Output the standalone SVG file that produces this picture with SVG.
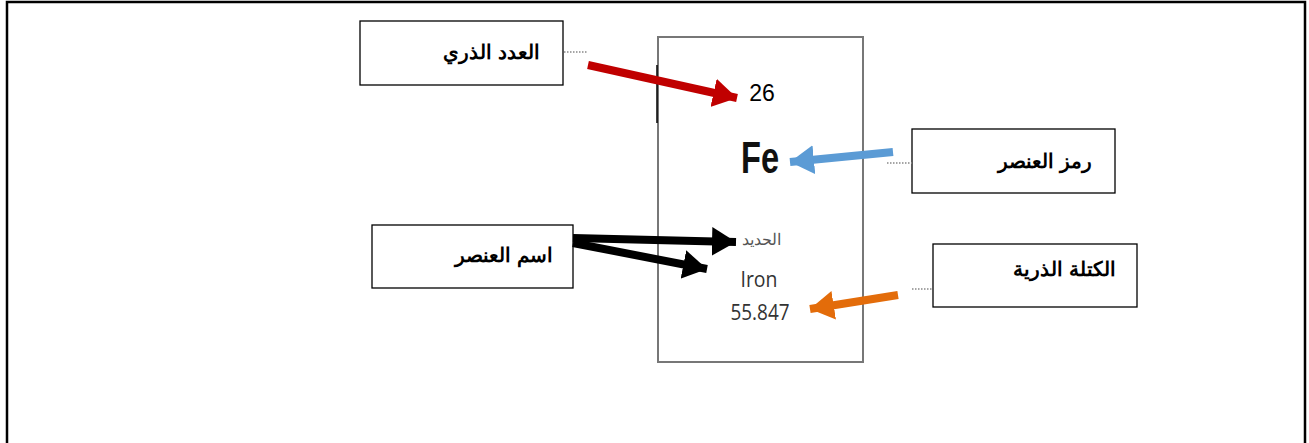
<svg xmlns="http://www.w3.org/2000/svg" width="1309" height="443" viewBox="0 0 1309 443">
<style>
.lbl{fill:#fff;stroke:#000;stroke-width:1.3}
.ar{font-family:"Liberation Sans","Noto Sans",sans-serif;font-weight:bold;font-size:20px;fill:#000}
.dot{stroke:#888;stroke-width:1.3;stroke-dasharray:1.5 1.5;fill:none}
.el{font-family:"Open Sans","Liberation Sans",sans-serif;fill:#333}
</style>
<defs>
<marker id="hRed" markerWidth="3" markerHeight="3.6" refX="3" refY="1.8" orient="auto" markerUnits="strokeWidth"><path d="M0,0 L3,1.8 L0,3.6 Z" fill="#c00000"/></marker>
<marker id="hBlue" markerWidth="3" markerHeight="3.6" refX="3" refY="1.8" orient="auto" markerUnits="strokeWidth"><path d="M0,0 L3,1.8 L0,3.6 Z" fill="#5b9bd5"/></marker>
<marker id="hOrange" markerWidth="3" markerHeight="3.6" refX="3" refY="1.8" orient="auto" markerUnits="strokeWidth"><path d="M0,0 L3,1.8 L0,3.6 Z" fill="#e36c0a"/></marker>
<marker id="hBlack" markerWidth="3" markerHeight="3.6" refX="3" refY="1.8" orient="auto" markerUnits="strokeWidth"><path d="M0,0 L3,1.8 L0,3.6 Z" fill="#000"/></marker>
</defs>
<rect width="1309" height="443" fill="#fff"/>
<path d="M7,445 V2 H1305 V445" fill="none" stroke="#000" stroke-width="2.5"/>

<g id="element">
<rect x="658" y="37" width="205" height="325" fill="#fff" stroke="#777" stroke-width="2"/>
<line x1="657" y1="65" x2="657" y2="123" stroke="#000" stroke-width="1.5"/>
<text x="762" y="101" text-anchor="middle" font-family="Liberation Sans, sans-serif" font-size="23" fill="#000">26</text>
<text x="741" y="173" font-family="Liberation Sans, sans-serif" font-weight="bold" font-size="44" textLength="38" lengthAdjust="spacingAndGlyphs" fill="#111">Fe</text>
<text x="761" y="245" text-anchor="middle" font-family="Liberation Sans, Noto Sans, sans-serif" font-size="16" fill="#555">الحديد</text>
<text x="759" y="287" text-anchor="middle" class="el" font-size="21" textLength="37" lengthAdjust="spacingAndGlyphs">Iron</text>
<text x="760" y="320" text-anchor="middle" class="el" font-size="21" textLength="59" lengthAdjust="spacingAndGlyphs">55.847</text>
</g>

<g id="atomic-number">
<rect class="lbl" x="360" y="21" width="203" height="64"/>
<text class="ar" x="540" y="59" text-anchor="end">العدد الذري</text>
</g>
<g id="symbol">
<rect class="lbl" x="912" y="129" width="203" height="64"/>
<text class="ar" x="1092" y="168" text-anchor="end">رمز العنصر</text>
</g>
<g id="name">
<rect class="lbl" x="372" y="225" width="201" height="63"/>
<text class="ar" x="553" y="262" text-anchor="end">اسم  العنصر</text>
</g>
<g id="mass">
<rect class="lbl" x="933" y="244" width="204" height="63"/>
<text class="ar" x="1116" y="276" text-anchor="end">الكتلة الذرية</text>
</g>

<g id="connectors">
<line class="dot" x1="564" y1="52" x2="588" y2="52"/>
<line class="dot" x1="887" y1="163" x2="912" y2="163"/>
<line class="dot" x1="912" y1="289" x2="933" y2="289"/>
<line x1="588" y1="65" x2="737" y2="98" stroke="#c00000" stroke-width="8" marker-end="url(#hRed)"/>
<line x1="893" y1="152" x2="790" y2="162" stroke="#5b9bd5" stroke-width="8" marker-end="url(#hBlue)"/>
<line x1="898" y1="295" x2="810" y2="309" stroke="#e36c0a" stroke-width="8" marker-end="url(#hOrange)"/>
<line x1="573" y1="238" x2="736" y2="242" stroke="#000" stroke-width="8" marker-end="url(#hBlack)"/>
<line x1="573" y1="243" x2="707" y2="269" stroke="#000" stroke-width="8" marker-end="url(#hBlack)"/>
</g>
</svg>
